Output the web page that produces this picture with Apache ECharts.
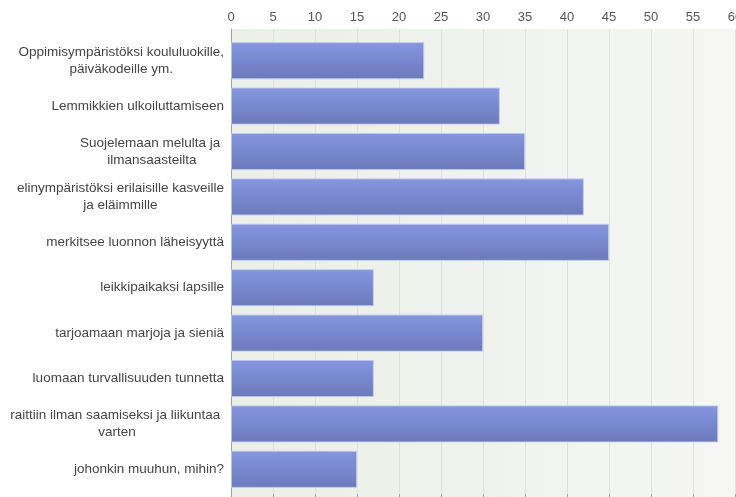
<!DOCTYPE html>
<html>
<head>
<meta charset="utf-8">
<script src="https://cdn.jsdelivr.net/npm/echarts@6/dist/echarts.min.js"></script>
<style>html,body{margin:0;padding:0;background:#fff}#c{width:736px;height:497px}</style>
</head>
<body>
<div id="c"></div>
<script>
const categories = [
  "Oppimisympäristöksi koululuokille,\npäiväkodeille ym.",
  "Lemmikkien ulkoiluttamiseen",
  "Suojelemaan melulta ja \nilmansaasteilta",
  "elinympäristöksi erilaisille kasveille\nja eläimmille",
  "merkitsee luonnon läheisyyttä",
  "leikkipaikaksi lapsille",
  "tarjoamaan marjoja ja sieniä",
  "luomaan turvallisuuden tunnetta",
  "raittiin ilman saamiseksi ja liikuntaa \nvarten",
  "johonkin muuhun, mihin?"
];
const values = [23, 32, 35, 42, 45, 17, 30, 17, 58, 15];
const xMin = 0, xMax = 60, xStep = 5;

const font = '"Liberation Sans", Arial, sans-serif';
const chart = echarts.init(document.getElementById('c'), null, {renderer: 'canvas'});
chart.setOption({
  animation: false,
  grid: [
    {left: 231, right: 1, top: 29, bottom: 0, show: true, borderWidth: 0, outerBoundsMode: 'none', containLabel: false,
     backgroundColor: {type: 'linear', x: 0, y: 0, x2: 1, y2: 0,
       colorStops: [{offset: 0, color: '#eaefe7'}, {offset: 1, color: '#f5f6f3'}]}},
    {left: 231, right: 1, top: 38, bottom: 5, outerBoundsMode: 'none', containLabel: false}
  ],
  xAxis: [
    {gridIndex: 0, type: 'value', position: 'top', min: xMin, max: xMax, interval: xStep,
     axisLine: {show: true, lineStyle: {color: '#a0a0a0', width: 1}},
     axisTick: {show: true, length: 3, lineStyle: {color: '#a0a0a0'}},
     axisLabel: {color: '#555', fontSize: 13, fontFamily: font, margin: 5, showMaxLabel: true},
     splitLine: {show: true, lineStyle: {color: '#dfe2dc', width: 1}}},
    {gridIndex: 1, type: 'value', min: xMin, max: xMax, show: false}
  ],
  yAxis: [
    {gridIndex: 0, type: 'value', min: 0, max: 1,
     axisLine: {show: true, lineStyle: {color: '#a0a0a0', width: 1}},
     axisTick: {show: false}, axisLabel: {show: false}, splitLine: {show: false}},
    {gridIndex: 1, type: 'category', inverse: true, data: categories,
     axisLine: {show: false}, axisTick: {show: false},
     axisLabel: {
       margin: 7, color: '#444',
       formatter: v => v.split('\n').map(l => '{c|' + l + '}').join('\n'),
       rich: {c: {align: 'center', fontSize: 13.5, lineHeight: 17, fontFamily: font, color: '#444'}}
     }}
  ],
  series: [{
    type: 'bar', xAxisIndex: 1, yAxisIndex: 1, data: values, barWidth: 37,
    itemStyle: {
      color: {type: 'linear', x: 0, y: 0, x2: 0, y2: 1,
        colorStops: [{offset: 0, color: '#8696e0'}, {offset: 1, color: '#6a7aba'}]},
      borderColor: 'rgba(190,200,238,0.9)', borderWidth: 1
    }
  }]
});
</script>
</body>
</html>
